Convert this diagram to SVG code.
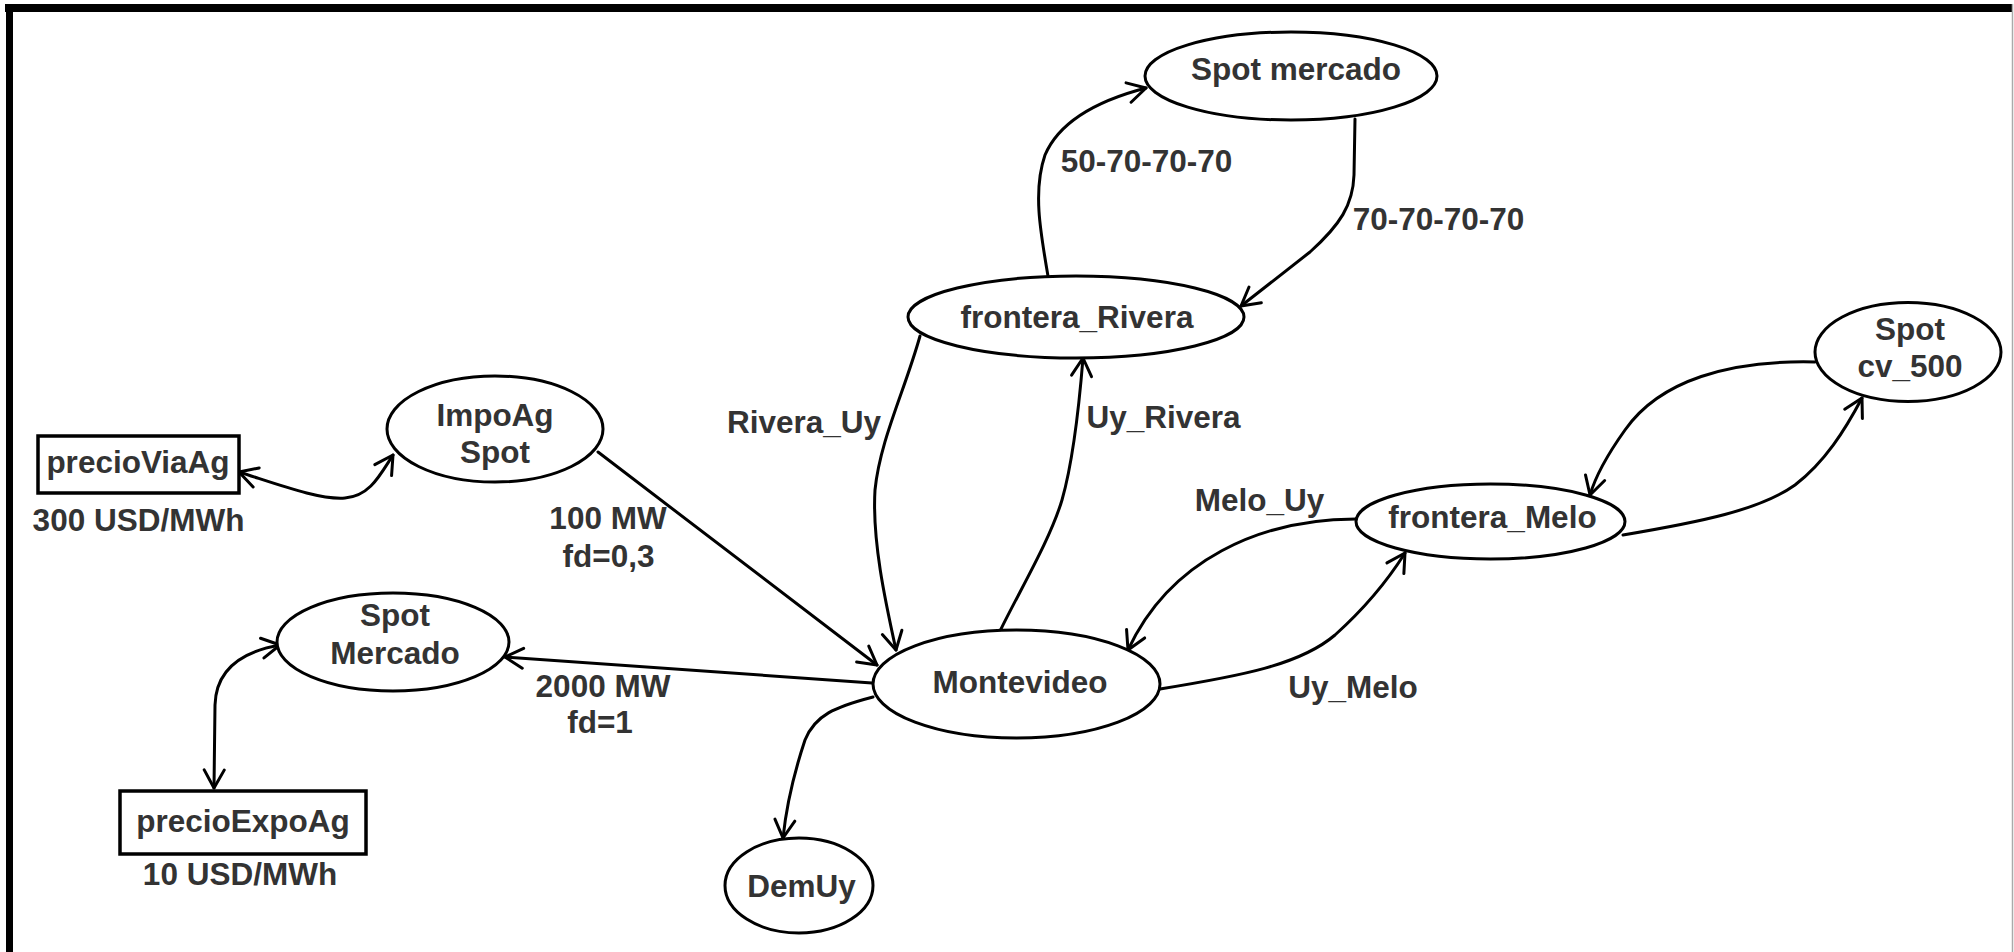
<svg xmlns="http://www.w3.org/2000/svg" width="2014" height="952" viewBox="0 0 2014 952">
<defs>
<style>
.n{fill:#fff;stroke:#000;stroke-width:3}
.t{font-family:"Liberation Sans",Arial,sans-serif;font-weight:bold;font-size:31.5px;fill:#333;text-anchor:middle}
.c{fill:none;stroke:#000;stroke-width:3;stroke-linecap:round;stroke-linejoin:round}
</style>
<marker id="a" markerUnits="userSpaceOnUse" markerWidth="22" markerHeight="24" viewBox="0 0 22 24" refX="20" refY="12" orient="auto-start-reverse">
<path d="M2,2 L20,12 L2,22" fill="none" stroke="#000" stroke-width="3" stroke-linecap="round" stroke-linejoin="round"/>
</marker>
</defs>
<rect x="0" y="0" width="2014" height="952" fill="#fff"/>
<g id="frame">
<rect x="5" y="4" width="2008" height="8" fill="#000"/>
<rect x="6" y="4" width="7" height="948" fill="#000"/>
<line x1="2012.5" y1="4" x2="2012.5" y2="952" stroke="#aaa" stroke-width="1.5"/>
</g>
<g id="connectors">
<path class="c" d="M239,472 C280,485 320,500 345,498 C370,496 380,475 393,455" marker-start="url(#a)" marker-end="url(#a)"/>
<path class="c" d="M214,788 L215,705 C216,670 240,652 280,645" marker-start="url(#a)" marker-end="url(#a)"/>
<path class="c" d="M598,452 L877,665" marker-end="url(#a)"/>
<path class="c" d="M872,683 L505,657" marker-end="url(#a)"/>
<path class="c" d="M873,697 C835,707 815,715 805,740 C795,770 787,800 783,838" marker-end="url(#a)"/>
<path class="c" d="M920,336 C905,390 880,440 875,490 C872,540 885,600 896,650" marker-end="url(#a)"/>
<path class="c" d="M1000,631 C1020,590 1050,540 1062,500 C1072,465 1078,420 1083,358" marker-end="url(#a)"/>
<path class="c" d="M1048,276 C1040,230 1033,190 1045,155 C1060,120 1100,100 1146,88" marker-end="url(#a)"/>
<path class="c" d="M1355,119 L1354,175 C1353,205 1340,225 1310,252 L1241,306" marker-end="url(#a)"/>
<path class="c" d="M1356,519 C1260,519 1170,560 1128,650" marker-end="url(#a)"/>
<path class="c" d="M1160,689 C1240,676 1300,665 1335,635 C1365,608 1388,580 1405,553" marker-end="url(#a)"/>
<path class="c" d="M1815,362 C1730,360 1660,380 1625,430 C1605,458 1595,478 1590,495" marker-end="url(#a)"/>
<path class="c" d="M1623,535 C1700,522 1760,510 1795,485 C1825,462 1845,430 1862,398" marker-end="url(#a)"/>
</g>
<g id="edge-labels" class="t">
<text x="1146.5" y="172">50-70-70-70</text>
<text x="1438.5" y="230">70-70-70-70</text>
<text x="804" y="433">Rivera_Uy</text>
<text x="1163.5" y="428">Uy_Rivera</text>
<text x="1259.5" y="511">Melo_Uy</text>
<text x="1353" y="698">Uy_Melo</text>
<text x="608" y="529">100 MW</text>
<text x="608.5" y="567">fd=0,3</text>
<text x="603" y="697">2000 MW</text>
<text x="600" y="733">fd=1</text>
</g>
<g id="precioViaAg">
<rect x="38" y="436" width="201" height="57" fill="#fff" stroke="#000" stroke-width="3.5"/>
<text class="t" x="138" y="473">precioViaAg</text>
<text class="t" x="138.5" y="531">300 USD/MWh</text>
</g>
<g id="precioExpoAg">
<rect x="120" y="791" width="246" height="63" fill="#fff" stroke="#000" stroke-width="3.5"/>
<text class="t" x="243" y="832">precioExpoAg</text>
<text class="t" x="240" y="885">10 USD/MWh</text>
</g>
<g id="ImpoAgSpot">
<ellipse class="n" cx="495" cy="429" rx="108" ry="53"/>
<text class="t" x="495" y="426">ImpoAg</text>
<text class="t" x="495" y="463">Spot</text>
</g>
<g id="SpotMercado">
<ellipse class="n" cx="393" cy="642" rx="116" ry="49"/>
<text class="t" x="395" y="626">Spot</text>
<text class="t" x="395" y="664">Mercado</text>
</g>
<g id="Montevideo">
<ellipse class="n" cx="1016.5" cy="684" rx="143.5" ry="54"/>
<text class="t" x="1020" y="693">Montevideo</text>
</g>
<g id="DemUy">
<ellipse class="n" cx="799" cy="885.5" rx="74" ry="47.5"/>
<text class="t" x="801.5" y="897">DemUy</text>
</g>
<g id="fronteraRivera">
<ellipse class="n" cx="1076" cy="317" rx="168" ry="41"/>
<text class="t" x="1077" y="328">frontera_Rivera</text>
</g>
<g id="SpotmercadoTop">
<ellipse class="n" cx="1291" cy="76" rx="146" ry="44"/>
<text class="t" x="1296" y="80">Spot mercado</text>
</g>
<g id="fronteraMelo">
<ellipse class="n" cx="1490.5" cy="521.5" rx="134.5" ry="37.5"/>
<text class="t" x="1492.5" y="528">frontera_Melo</text>
</g>
<g id="SpotCv500">
<ellipse class="n" cx="1908" cy="352" rx="93" ry="49.5"/>
<text class="t" x="1910" y="340">Spot</text>
<text class="t" x="1910" y="377">cv_500</text>
</g>
</svg>
